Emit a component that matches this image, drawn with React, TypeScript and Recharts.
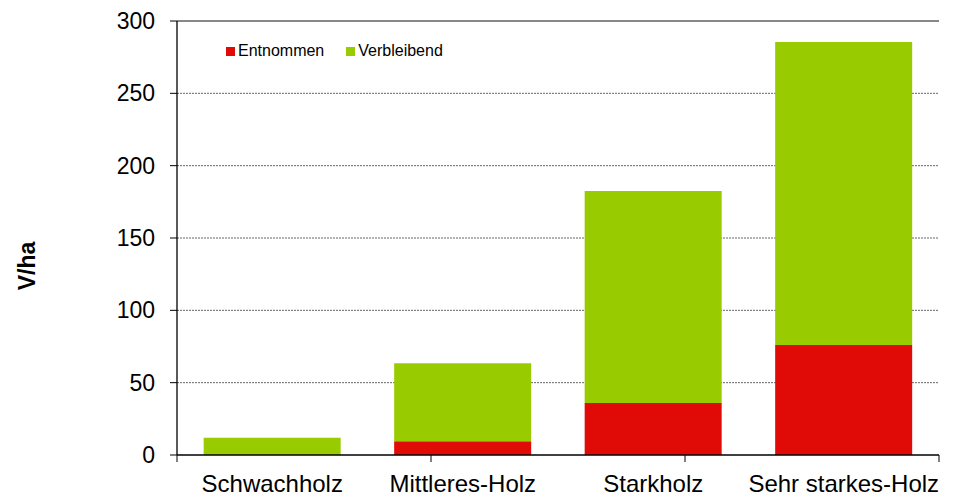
import React from "react";
import {
  BarChart,
  Bar,
  XAxis,
  YAxis,
  CartesianGrid,
  Legend,
  ReferenceLine,
} from "recharts";

const categories = ["Schwachholz", "Mittleres-Holz", "Starkholz", "Sehr starkes-Holz"];
const entnommen = [0, 9.5, 36, 76];
const verbleibend = [12, 54, 146.5, 209.5];
const yTicks = [0, 50, 100, 150, 200, 250, 300];
const boundaryTicks = [0, 1, 2, 3, 4];

const RED = "#E00A06";
const GREEN = "#99CC00";
const FONT = "Arial, 'Liberation Sans', sans-serif";

const data = categories.map((name, i) => ({
  name,
  Entnommen: entnommen[i],
  Verbleibend: verbleibend[i],
}));

function LegendBox({ payload }: any) {
  return (
    <div style={{ display: "flex", fontFamily: FONT, fontSize: 16, lineHeight: "18px", color: "#000" }}>
      {(payload || []).map((p: any) => (
        <div key={p.value} style={{ display: "flex", alignItems: "center", marginRight: 22 }}>
          <span
            style={{ width: 9, height: 9, background: p.color, display: "inline-block", marginRight: 3 }}
          />
          <span>{p.value}</span>
        </div>
      ))}
    </div>
  );
}

export default function App() {
  return (
    <div style={{ position: "absolute", left: 0, top: 0, width: 962, height: 497, background: "#fff" }}>
      <BarChart
        width={962}
        height={497}
        data={data}
        margin={{ top: 3, right: 23, bottom: 0, left: 0 }}
        barCategoryGap="14%"
      >
        <CartesianGrid
          horizontal
          vertical={false}
          stroke="#000"
          strokeDasharray="2 1"
          strokeWidth={0.6}
          horizontalValues={[50, 100, 150, 200, 250]}
        />
        {/* boundary ticks between categories, like the original */}
        <XAxis
          xAxisId="b"
          type="number"
          domain={[0, 4]}
          ticks={boundaryTicks}
          tick={() => <g />}
          tickSize={7}
          axisLine={{ stroke: "#000", strokeWidth: 1.3 }}
          tickLine={{ stroke: "#000", strokeWidth: 1 }}
          height={1}
        />
        <XAxis
          dataKey="name"
          xAxisId="cat"
          axisLine={false}
          tickLine={false}
          height={41}
          tickMargin={13}
          tick={{ fill: "#000", fontSize: 24, fontFamily: FONT }}
          interval={0}
        />
        <YAxis
          width={177}
          domain={[0, 300]}
          ticks={yTicks}
          tickSize={7}
          tickMargin={15}
          axisLine={{ stroke: "#000", strokeWidth: 1.3 }}
          tickLine={{ stroke: "#000" }}
          tick={{ fill: "#000", fontSize: 23, fontFamily: FONT }}
          label={{
            content: () => (
              <text
                x={35}
                y={266}
                transform="rotate(-90 35 266)"
                textAnchor="middle"
                fontFamily={FONT}
                fontSize={23}
                fontWeight="bold"
                fill="#000"
              >
                V/ha
              </text>
            ),
          }}
        />
        <ReferenceLine y={300} xAxisId="b" stroke="#888" strokeWidth={2} />
        <ReferenceLine x={4} xAxisId="b" stroke="#888" strokeWidth={2} />
        <Legend
          verticalAlign="top"
          align="left"
          content={<LegendBox />}
          wrapperStyle={{ position: "absolute", left: 226, top: 42, width: 300 }}
        />
        <Bar dataKey="Entnommen" stackId="a" xAxisId="cat" fill={RED} isAnimationActive={false} />
        <Bar dataKey="Verbleibend" stackId="a" xAxisId="cat" fill={GREEN} isAnimationActive={false} />
      </BarChart>
    </div>
  );
}
